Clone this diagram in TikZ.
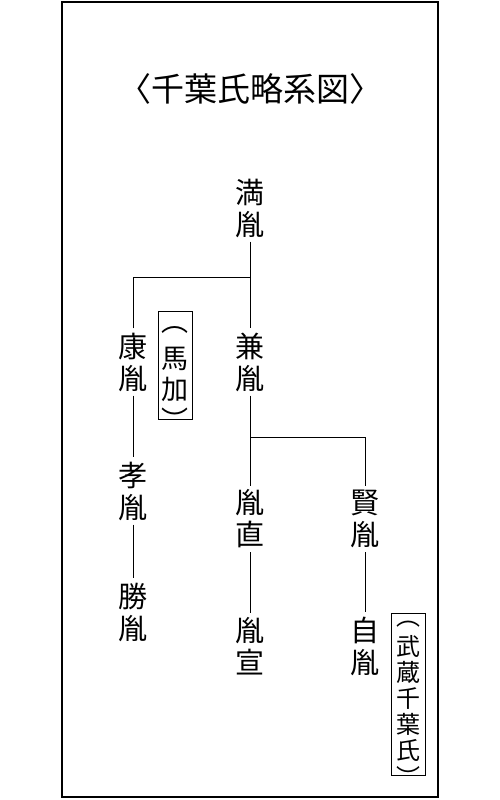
\documentclass[tikz,border=0pt]{standalone}
\usepackage{fontspec}
\setmainfont{Noto Sans CJK JP}
\usepackage{tikz}
\usetikzlibrary{positioning}
\tikzstyle{heading} = [inner sep=0pt, font=\fontsize{33}{36}\selectfont]
\tikzstyle{person} = [align=center, inner xsep=2pt, inner ysep=4pt, font=\fontsize{29}{32}\selectfont]
\tikzstyle{branch} = [line width=1pt]
\tikzstyle{housename} = [draw, line width=1pt, inner sep=0pt, minimum width=34pt]
\tikzstyle{housetext} = [align=center, inner sep=0pt]

\begin{document}
\begin{tikzpicture}[x=1pt, y=-1pt]
\useasboundingbox (0,0) rectangle (500,800);
% frame and title
\draw[line width=1.3pt] (62,2) rectangle (438,797);
\node[heading] (head) at (250,89) {〈千葉氏略系図〉};

% generations
\node[person] (mitsutane) at (250,208) {満\\胤};
\node[person] (yasutane) at (133,362) {康\\胤};
\node[person] (kanetane) at (250,362) {兼\\胤};
\node[person] (takatane) at (133,491) {孝\\胤};
\node[person] (katsutane) at (133,612) {勝\\胤};
\node[person] (tanenao) at (250,519) {胤\\直};
\node[person] (tanenobu) at (250,646) {胤\\宣};
\node[person] (katatane) at (365,519) {賢\\胤};
\node[person] (yoritane) at (365,646) {自\\胤};

% boxed house names
\node[housename, minimum height=108pt] (makuwari) at (175,365) {};
\node[housetext, font=\fontsize{27}{31}\selectfont] (makuwaritext) at (175,378) {︵\\[6pt]馬\\加\\︶};
\node[housename, minimum height=162pt] (musashi) at (408,694) {};
\node[housetext, font=\fontsize{24}{26}\selectfont] (musashitext) at (408,704) {︵\\[3.5pt]武\\蔵\\千\\葉\\氏\\[1.5pt]︶};

% branch points
\coordinate (fork1) at (250,277);
\coordinate (fork2) at (250,437);

% lines
\draw[branch] (mitsutane) -- (kanetane);
\draw[branch] (yasutane.north) |- (fork1);
\draw[branch] (kanetane) -- (tanenao);
\draw[branch] (katatane.north) |- (fork2);
\draw[branch] (yasutane) -- (takatane);
\draw[branch] (takatane) -- (katsutane);
\draw[branch] (tanenao) -- (tanenobu);
\draw[branch] (katatane) -- (yoritane);
\end{tikzpicture}
\end{document}
